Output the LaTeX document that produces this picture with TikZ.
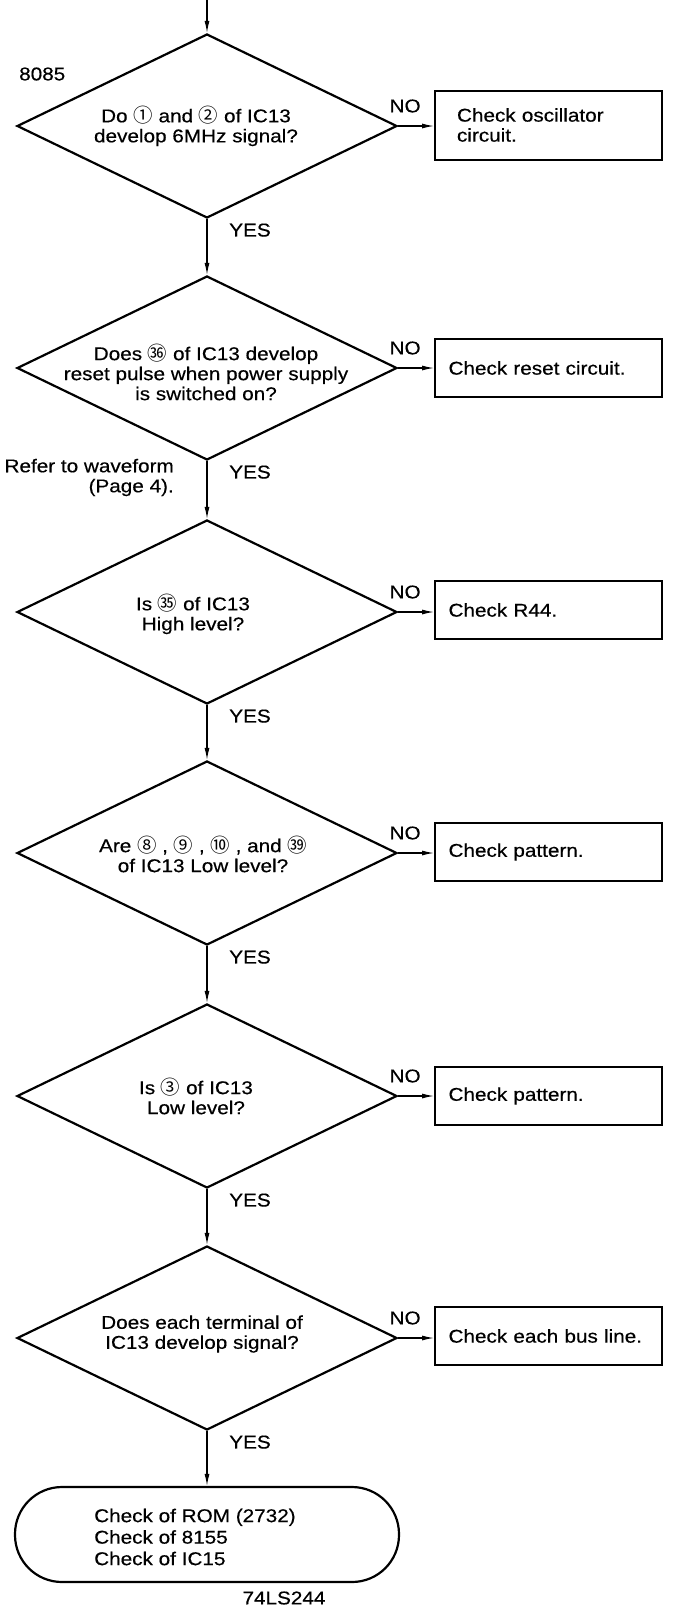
\documentclass[tikz,border=0pt]{standalone}
\usepackage{fontspec}
\setmainfont{Liberation Sans}[FakeStretch=1.12,FakeBold=0.4]
\newfontfamily\circfont{Noto Sans CJK SC}[Scale=1.05]
\usetikzlibrary{shapes.geometric,arrows.meta}
\newcommand{\cn}[1]{{\circfont #1}}

\begin{document}
\begin{tikzpicture}[x=1pt,y=-1pt,
  every node/.style={font=\fontsize{18.5}{20}\selectfont},
  dia/.style={draw, line width=2.2pt, diamond, minimum width=380pt,
    minimum height=184pt, inner sep=0pt},
  qtext/.style={align=center, inner sep=0pt},
  box/.style={draw, line width=2pt, minimum width=227pt, minimum height=58pt,
    text width=200pt, inner xsep=13.5pt, align=left},
  term/.style={draw, line width=2.2pt, rounded corners=47pt,
    minimum width=384pt, minimum height=95pt, inner sep=0pt},
  conn/.style={line width=1.2pt, -{Latex[length=12pt,width=5pt]}},
  lbl/.style={inner sep=0pt}]

\useasboundingbox[fill=white] (0,0) rectangle (675,1618);

% decisions
\node[dia] (d1) at (207,126) {};
\node[dia] (d2) at (207,368) {};
\node[dia] (d3) at (207,612) {};
\node[dia] (d4) at (207,853) {};
\node[dia] (d5) at (207,1096) {};
\node[dia] (d6) at (207,1338) {};

\node[qtext] (q1) at (196,126) {Do \cn{①} and \cn{②} of IC13\\develop 6MHz signal?};
\node[qtext] (q2) at (206,372) {Does \cn{㊱} of IC13 develop\\reset pulse when power supply\\is switched on?};
\node[qtext] (q3) at (193,614) {Is \cn{㉟} of IC13\\High level?};
\node[qtext] (q4) at (203,854) {Are \cn{⑧} , \cn{⑨} , \cn{⑩} , and \cn{㊴}\\of IC13 Low level?};
\node[qtext] (q5) at (196,1096) {Is \cn{③} of IC13\\Low level?};
\node[qtext] (q6) at (202,1334) {Does each terminal of\\IC13 develop signal?};

% actions
\node[box, minimum height=69pt, text width=183pt, inner xsep=22pt] (b1) at (548.5,125) {Check oscillator\\circuit.};
\node[box] (b2) at (548.5,368) {Check reset circuit.};
\node[box] (b3) at (548.5,610) {Check R44.};
\node[box] (b4) at (548.5,852) {Check pattern.};
\node[box] (b5) at (548.5,1096) {Check pattern.};
\node[box] (b6) at (548.5,1336) {Check each bus line.};

% final check
\node[term] (t) at (207,1534.5) {};
\node[align=left, anchor=west, inner sep=0pt, font=\fontsize{18.5}{21.5}\selectfont] (tt) at (94,1537)
  {Check of ROM (2732)\\Check of 8155\\Check of IC15};

% connectors
\coordinate (start) at (207,0);
\draw[conn] (start) -- (d1.north);
\draw[conn] (d1.south) -- (d2.north);
\draw[conn] (d2.south) -- (d3.north);
\draw[conn] (d3.south) -- (d4.north);
\draw[conn] (d4.south) -- (d5.north);
\draw[conn] (d5.south) -- (d6.north);
\draw[conn] (d6.south) -- (d6.south |- t.north);

\foreach \i in {1,...,6}{
  \draw[conn] (d\i.east) -- (d\i.east -| b\i.west);
  \node[lbl] (no\i) at ([xshift=7pt,yshift=20pt]d\i.east) {NO};
  \node[lbl] (yes\i) at ([xshift=43pt,yshift=-11pt]d\i.south) {YES};
}

% notes
\node[lbl, anchor=west] (chip) at (19,74) {8085};
\node[lbl, anchor=east, align=right] (ref) at (174,477.5) {Refer to waveform\\(Page 4).};
\node[lbl] (buf) at (284,1598) {74LS244};
\end{tikzpicture}
\end{document}
